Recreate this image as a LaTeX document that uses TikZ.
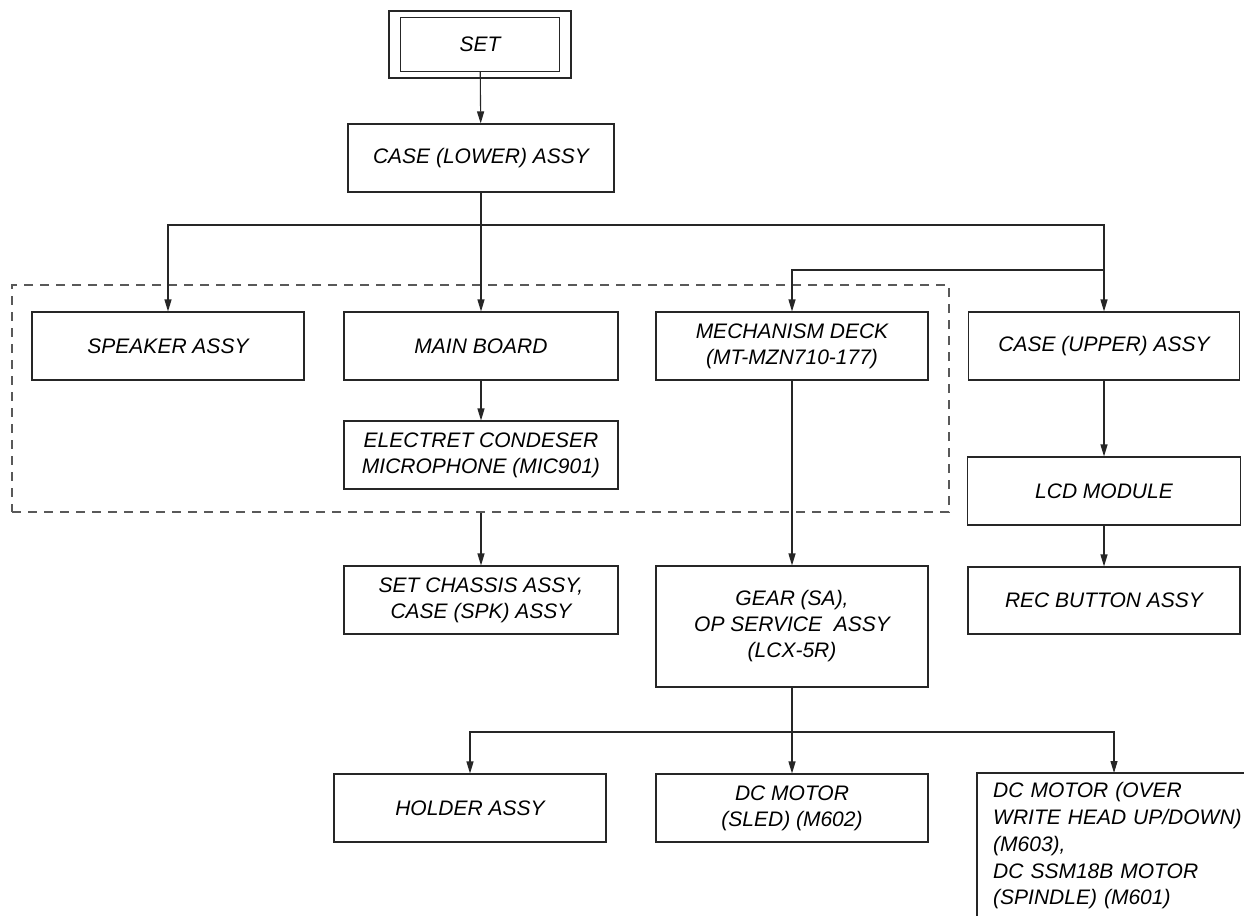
\documentclass[tikz,border=0pt]{standalone}
\usepackage{fontspec}
\setmainfont{Liberation Sans}
\usetikzlibrary{arrows.meta,calc}
\begin{document}
\begin{tikzpicture}[x=1pt,y=-1pt,
  bx/.style 2 args={draw=black!85, line width=1.1pt, inner sep=0pt, align=center,
    font=\itshape\fontsize{21}{26}\selectfont, minimum width=#1pt, minimum height=#2pt},
  ln/.style={draw=black!85, line width=1.1pt},
  arr/.style={ln, -{Triangle[length=12pt,width=7pt]}},
  grpbox/.style={draw=black!65, line width=1.1pt, dash pattern=on 9pt off 7pt, inner sep=0pt,
    minimum width=937pt, minimum height=227pt}]
\useasboundingbox (0,0) rectangle (1244,915);
\clip (0,0) rectangle (1244,915);
\fill[white] (0,0) rectangle (1244,915);

% group
\node[grpbox] (grp) at (480.5,398.5) {};

% nodes
\node[bx={182}{67}] (setouter) at (480,44.5) {};
\node[bx={159}{54}] (set) at (480,44.5) {SET};
\node[bx={266}{68}] (caselow) at (481,158) {CASE (LOWER) ASSY};

\node[bx={272}{68}] (speaker) at (168,346) {SPEAKER ASSY};
\node[bx={274}{68}] (main) at (481,346) {MAIN BOARD};
\node[bx={272}{68}] (mech) at (792,346) {MECHANISM DECK\\(MT-MZN710-177)};
\node[bx={271}{68}] (caseup) at (1104,346) {CASE (UPPER) ASSY};

\node[bx={274}{68}] (mic) at (481,455) {ELECTRET CONDESER\\MICROPHONE (MIC901)};
\node[bx={273}{68}] (lcd) at (1104,491) {LCD MODULE};

\node[bx={274}{68}] (chassis) at (481,600) {SET CHASSIS ASSY,\\CASE (SPK) ASSY};
\node[bx={272}{121}] (gear) at (792,626.5) {GEAR (SA),\\OP SERVICE\ \ ASSY\\(LCX-5R)};
\node[bx={272}{67}] (rec) at (1104,600.5) {REC BUTTON ASSY};

\node[bx={272}{68}] (holder) at (470,808) {HOLDER ASSY};
\node[bx={272}{68}] (sled) at (792,808) {DC MOTOR\\(SLED) (M602)};
\node[anchor=north west, align=left, text width=262pt,
  inner xsep=16pt, inner ysep=9.5pt,
  font=\itshape\fontsize{21}{26.7}\selectfont] (dcm) at (977,773)
  {DC MOTOR (OVER\\WRITE HEAD UP/DOWN)\\(M603),\\DC SSM18B MOTOR\\(SPINDLE) (M601)};
\draw[ln] ([xshift=320pt]dcm.north west) -- (dcm.north west) -- ([yshift=-220pt]dcm.north west);

% connectors
\draw[arr] (set) -- (caselow);
\coordinate (b1) at (481,225);
\coordinate (b2) at (1104,270);
\coordinate (b3) at (792,732);
\draw[ln] (caselow.south) -- (b1);
\draw[arr] (b1) -| (speaker.north);
\draw[arr] (b1) -| (caseup.north);
\draw[arr] (b1) -- (main.north);
\draw[arr] (b2) -| (mech.north);
\draw[arr] (main) -- (mic);
\draw[arr] (grp.south -| chassis.north) -- (chassis.north);
\draw[arr] (mech.south) -- (gear.north);
\draw[arr] (caseup) -- (lcd);
\draw[arr] (lcd) -- (rec);
\draw[ln] (gear.south) -- (b3);
\draw[arr] (b3) -| (holder.north);
\draw[arr] (b3) -- (sled.north);
\draw[arr] (b3) -| ([xshift=137pt]dcm.north west);
\end{tikzpicture}
\end{document}
